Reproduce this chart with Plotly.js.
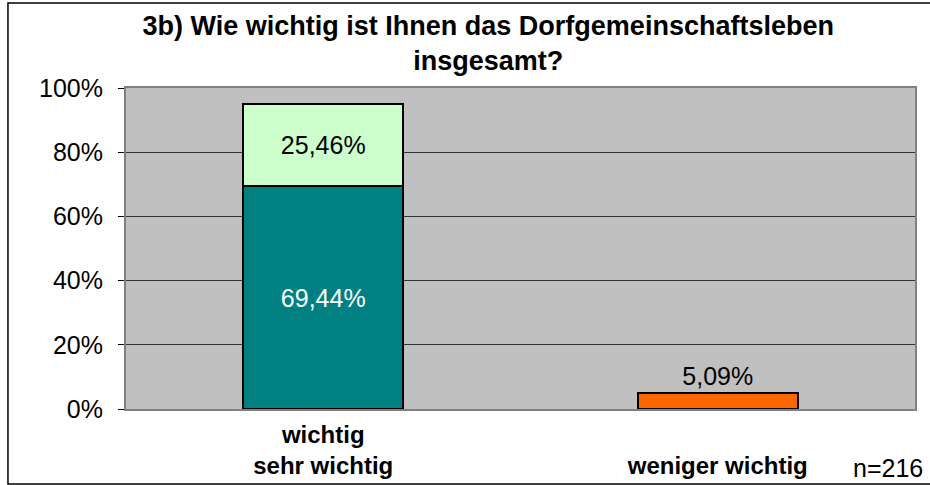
<!DOCTYPE html>
<html>
<head>
<meta charset="utf-8">
<script src="https://cdn.plot.ly/plotly-3.0.1.min.js"></script>
<style>html,body{margin:0;padding:0;background:#fff;}#chart{width:930px;height:485px;}</style>
</head>
<body>
<div id="chart"></div>
<script>
// Data
const categories = ["wichtig<br>sehr wichtig", " <br>weniger wichtig"];
const sehrWichtig = [69.44, null];   // teal, bottom of stack
const wichtig = [25.46, null];       // light green, top of stack
const wenigerWichtig = [null, 5.09]; // orange
const yTicks = [0, 20, 40, 60, 80, 100];
const yTickLabels = ["0%", "20%", "40%", "60%", "80%", "100%"];
const titleText = "3b) Wie wichtig ist Ihnen das Dorfgemeinschaftsleben<br>insgesamt?";
const noteText = "n=216";

const FONT = "Liberation Sans, Arial, sans-serif";
const barW = 0.405;

const traces = [
  {
    type: "bar", x: categories, y: sehrWichtig, width: barW,
    marker: {color: "#008080", line: {color: "#000", width: 2}},
    texttemplate: "%{y:.2f}%", textposition: "inside", insidetextanchor: "middle",
    textfont: {family: FONT, size: 25, color: "#fff"}, hoverinfo: "skip"
  },
  {
    type: "bar", x: categories, y: wichtig, width: barW,
    marker: {color: "#CCFFCC", line: {color: "#000", width: 2}},
    texttemplate: "%{y:.2f}%", textposition: "inside", insidetextanchor: "middle",
    textfont: {family: FONT, size: 25, color: "#000"}, hoverinfo: "skip"
  },
  {
    type: "bar", x: categories, y: wenigerWichtig, width: barW,
    marker: {color: "#FF6600", line: {color: "#000", width: 2}},
    texttemplate: "%{y:.2f}%", textposition: "outside", cliponaxis: false,
    textfont: {family: FONT, size: 25, color: "#000"}, hoverinfo: "skip"
  }
];

const layout = {
  width: 930, height: 485,
  margin: {l: 126, r: 15, t: 88, b: 76},
  paper_bgcolor: "#fff",
  plot_bgcolor: "#C0C0C0",
  separators: ",.",
  barmode: "stack",
  showlegend: false,
  font: {family: FONT, color: "#000", size: 25},
  title: {
    text: titleText,
    font: {family: FONT, size: 27, color: "#000", weight: "bold"},
    x: 0.525, xanchor: "center", xref: "container",
    y: 0.928, yanchor: "top", yref: "container"
  },
  xaxis: {
    type: "category",
    showgrid: false, zeroline: false,
    showline: true, linecolor: "#808080", linewidth: 2, mirror: true,
    ticks: "",
    ticklabelstandoff: 3,
    tickfont: {family: FONT, size: 24, color: "#000", weight: "bold"}
  },
  yaxis: {
    range: [0, 100],
    tickmode: "array",
    tickvals: yTicks,
    ticktext: yTickLabels,
    showgrid: true, gridcolor: "#333", gridwidth: 1,
    zeroline: false,
    showline: true, linecolor: "#808080", linewidth: 2, mirror: true,
    ticks: "outside", ticklen: 6, tickcolor: "#000",
    ticklabelstandoff: 10,
    tickfont: {family: FONT, size: 25, color: "#000"}
  },
  annotations: [
    {
      text: noteText, xref: "paper", yref: "paper",
      x: 1.0127, y: -0.184, xanchor: "right", yanchor: "middle",
      showarrow: false, font: {family: FONT, size: 25, color: "#000"}
    }
  ],
  shapes: [
    {
      type: "rect", xref: "paper", yref: "paper",
      x0: -0.1496, x1: 1.03, y0: -0.2336, y1: 1.2648,
      line: {color: "#000", width: 1.5}, fillcolor: "rgba(0,0,0,0)", layer: "below"
    }
  ]
};

Plotly.newPlot("chart", traces, layout, {displayModeBar: false, staticPlot: true});
</script>
</body>
</html>
